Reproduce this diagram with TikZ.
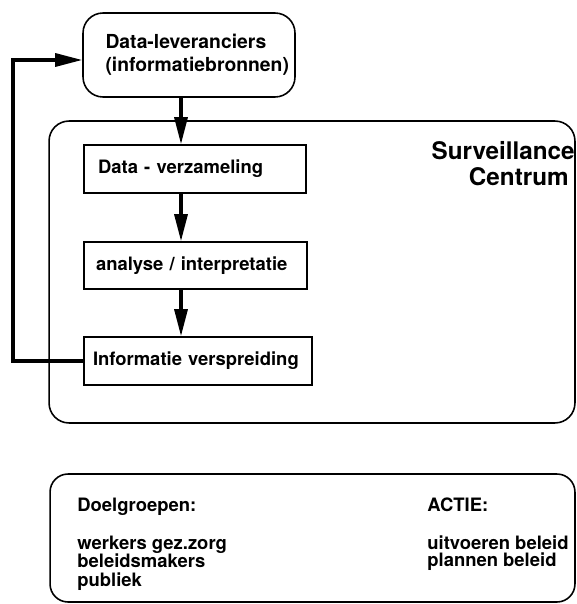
\documentclass[tikz,border=0pt]{standalone}
\usepackage{fontspec}
\setmainfont{TeX Gyre Heros}
\usetikzlibrary{arrows.meta}
\tikzset{blok/.style={draw, line width=0.9pt, align=left, inner ysep=0pt,
		font=\bfseries\fontsize{10.5}{13}\selectfont},
	kader/.style={draw, line width=0.9pt, rounded corners=0.4cm},
	stroom/.style={line width=1.8pt, -{Triangle[length=0.54cm, width=0.26cm]}},
	tekst/.style={inner sep=0pt, font=\bfseries\fontsize{10.5}{13}\selectfont}}

\begin{document}
\begin{tikzpicture}[x=0.02cm, y=-0.02cm]
	\useasboundingbox (0,0) rectangle (577,604);
	
	\pgfmathsetmacro\ax{181};
	\pgfmathsetmacro\lx{13};
	
	% surveillance centrum
	\node[kader, minimum width=10.52cm, minimum height=6.04cm] (sc) at (312,272) {};
	\node[tekst, anchor=base east, font=\bfseries\fontsize{13.8}{16}\selectfont] (surv) at (575,160) {Surveillance};
	\node[tekst, anchor=base east, font=\bfseries\fontsize{13.8}{16}\selectfont] (centr) at (569,186) {Centrum};
	
	% boxes
	\node[blok, rounded corners=0.4cm, text width=3.34cm, inner xsep=0.45cm, minimum height=1.68cm,
		font=\bfseries\fontsize{11}{13}\selectfont] (lev) at (189,55) {Data-leveranciers\\(informatiebronnen)};
	\node[blok, text width=3.88cm, inner xsep=0.28cm, minimum height=0.96cm] (verz) at (195,169) {Data - verzameling};
	\node[blok, text width=3.98cm, inner xsep=0.24cm, minimum height=0.94cm] (anal) at (195.5,265.5) {analyse / interpretatie};
	\node[blok, text width=4.2cm, inner xsep=0.18cm, minimum height=0.96cm] (vers) at (198,361) {Informatie verspreiding};
	
	% arrows
	\draw[stroom] (lev.south -| \ax,0) -- (verz.north -| \ax,0);
	\draw[stroom] (verz.south -| \ax,0) -- (anal.north -| \ax,0);
	\draw[stroom] (anal.south -| \ax,0) -- (vers.north -| \ax,0);
	\coordinate (terug) at (\lx,361);
	\draw[stroom] (vers.west) -- (terug) |- ([yshift=-0.1cm]lev.west);
	
	% doelgroepen en actie
	\node[kader, rounded corners=0.36cm, minimum width=10.5cm, minimum height=2.56cm] (doel) at (312.5,538) {};
	\node[tekst, anchor=base west] (dg) at (77,511) {Doelgroepen:};
	\node[tekst, anchor=base west] (dg1) at (77,549) {werkers gez.zorg};
	\node[tekst, anchor=base west] (dg2) at (77,567) {beleidsmakers};
	\node[tekst, anchor=base west] (dg3) at (77,586) {publiek};
	\node[tekst, anchor=base west] (act) at (427,511) {ACTIE:};
	\node[tekst, anchor=base west] (act1) at (427,549) {uitvoeren beleid};
	\node[tekst, anchor=base west] (act2) at (427,566) {plannen beleid};
\end{tikzpicture}
\end{document}
